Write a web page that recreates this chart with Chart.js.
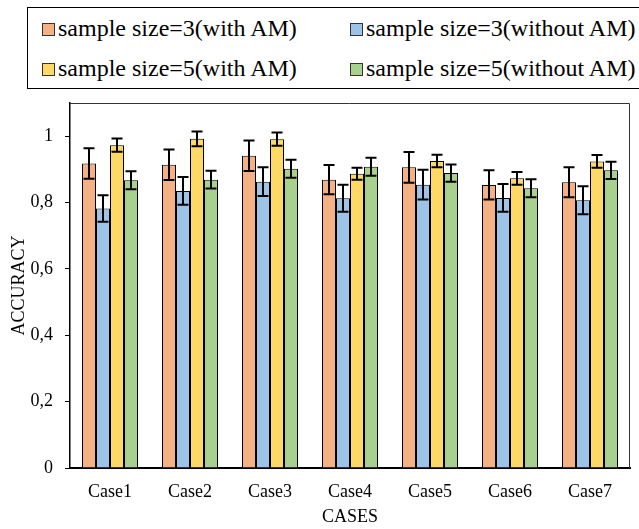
<!DOCTYPE html>
<html>
<head>
<meta charset="utf-8">
<script src="https://cdn.jsdelivr.net/npm/chart.js@4/dist/chart.umd.min.js"></script>
<style>
  html, body { margin: 0; padding: 0; background: #fff; overflow: hidden; }
  #wrap { position: relative; width: 639px; height: 529px; }
  #accChart { position: absolute; left: 0; top: 0; }
  #legendBox {
    position: absolute; left: 27px; top: 7px; width: 700px; height: 82px;
    box-sizing: border-box; border: 1.5px solid #000; background: #fff;
    font-family: "Liberation Serif", "Times New Roman", serif; font-size: 24px; color: #000;
  }
  .item { position: absolute; white-space: nowrap; line-height: 28px; }
  .sw { display: inline-block; width: 11px; height: 11px; border: 1px solid #333; margin-right: 3px; vertical-align: 0px; }
</style>
</head>
<body>
<div id="wrap">
  <canvas id="accChart" width="639" height="529"></canvas>
  <div id="legendBox"></div>
</div>
<script>
const cases = ['Case1', 'Case2', 'Case3', 'Case4', 'Case5', 'Case6', 'Case7'];
const seriesNames = ['sample size=3(with AM)', 'sample size=3(without AM)', 'sample size=5(with AM)', 'sample size=5(without AM)'];
const seriesColors = ['#F4B183', '#9DC3E6', '#FFD966', '#A9D18E'];

// mean accuracy per case
const size3With = [0.918, 0.914, 0.941, 0.869, 0.906, 0.853, 0.861];
const size3Without = [0.782, 0.835, 0.863, 0.813, 0.854, 0.814, 0.807];
const size5With = [0.973, 0.992, 0.991, 0.887, 0.925, 0.873, 0.924];
const size5Without = [0.867, 0.869, 0.902, 0.908, 0.889, 0.843, 0.897];

// error bar half-lengths
const size3WithErr = [0.046, 0.046, 0.046, 0.044, 0.046, 0.044, 0.045];
const size3WithoutErr = [0.040, 0.042, 0.043, 0.041, 0.045, 0.042, 0.042];
const size5WithErr = [0.020, 0.022, 0.020, 0.018, 0.019, 0.019, 0.019];
const size5WithoutErr = [0.027, 0.027, 0.027, 0.027, 0.026, 0.027, 0.026];

const yTicks = [0, 0.2, 0.4, 0.6, 0.8, 1];

const values = [size3With, size3Without, size5With, size5Without];
const errors = [size3WithErr, size3WithoutErr, size5WithErr, size5WithoutErr];

const serif = '"Liberation Serif", "Times New Roman", serif';

// legend (two columns, box runs off the right edge like the original)
const legendBox = document.getElementById('legendBox');
const legendPos = [[14, 6], [322, 6], [14, 46], [322, 46]];
const legendOrder = [0, 1, 2, 3];
legendOrder.forEach((i, k) => {
    const el = document.createElement('div');
    el.className = 'item';
    el.style.left = legendPos[k][0] + 'px';
    el.style.top = legendPos[k][1] + 'px';
    el.innerHTML = `<span class="sw" style="background:${seriesColors[i]}"></span>${seriesNames[i]}`;
    legendBox.appendChild(el);
});

const errorBars = {
    id: 'errorBars',
    afterDatasetsDraw(chart) {
        const ctx = chart.ctx;
        const y = chart.scales.y;
        ctx.save();
        ctx.strokeStyle = '#000';
        ctx.lineWidth = 2;
        chart.data.datasets.forEach((ds, i) => {
            const meta = chart.getDatasetMeta(i);
            meta.data.forEach((bar, j) => {
                const v = ds.data[j], e = errors[i][j];
                const top = y.getPixelForValue(v + e);
                const bot = y.getPixelForValue(v - e);
                const x = bar.x, half = 5.5;
                ctx.beginPath();
                ctx.moveTo(x, top); ctx.lineTo(x, bot);
                ctx.moveTo(x - half, top); ctx.lineTo(x + half, top);
                ctx.moveTo(x - half, bot); ctx.lineTo(x + half, bot);
                ctx.stroke();
            });
        });
        ctx.restore();
    }
};

const plotFrame = {
    id: 'plotFrame',
    afterDraw(chart) {
        const { ctx, chartArea: a } = chart;
        ctx.save();
        ctx.strokeStyle = '#333';
        ctx.lineWidth = 1;
        ctx.beginPath();
        ctx.moveTo(a.left, a.top + 0.5);
        ctx.lineTo(a.right - 0.5, a.top + 0.5);
        ctx.lineTo(a.right - 0.5, a.bottom);
        ctx.stroke();
        ctx.restore();
    }
};

new Chart(document.getElementById('accChart').getContext('2d'), {
    type: 'bar',
    data: {
        labels: cases,
        datasets: values.map((d, i) => ({
            label: seriesNames[i],
            data: d,
            backgroundColor: seriesColors[i],
            borderColor: '#000',
            borderWidth: 1,
            categoryPercentage: 0.7,
            barPercentage: 1.0
        }))
    },
    options: {
        responsive: false,
        animation: false,
        layout: { padding: { top: 103, right: 9, left: 0, bottom: 0 } },
        plugins: { legend: { display: false }, tooltip: { enabled: false } },
        scales: {
            x: {
                grid: { display: false },
                border: { display: true, color: '#000', width: 2 },
                ticks: { color: '#000', font: { family: serif, size: 18 }, padding: 5, maxRotation: 0 },
                title: { display: true, text: 'CASES', color: '#000', font: { family: serif, size: 18 }, padding: { top: 0, bottom: 1 } },
                afterFit(s) { s.height = 61; }
            },
            y: {
                min: 0,
                max: 1.1,
                grid: { drawOnChartArea: false, drawTicks: true, tickLength: 5, color: '#000' },
                border: { display: true, color: '#000', width: 1.5 },
                afterBuildTicks(s) { s.ticks = yTicks.map(v => ({ value: v })); },
                ticks: {
                    color: '#000',
                    font: { family: serif, size: 18 },
                    padding: 12,
                    callback: v => (v === 0 || v === 1) ? String(v) : v.toFixed(1).replace('.', ',')
                },
                title: { display: true, text: 'ACCURACY', color: '#000', font: { family: serif, size: 18 }, padding: { top: 8, bottom: 0 } },
                afterFit(s) { s.width = 70; }
            }
        }
    },
    plugins: [errorBars, plotFrame]
});
</script>
</body>
</html>
